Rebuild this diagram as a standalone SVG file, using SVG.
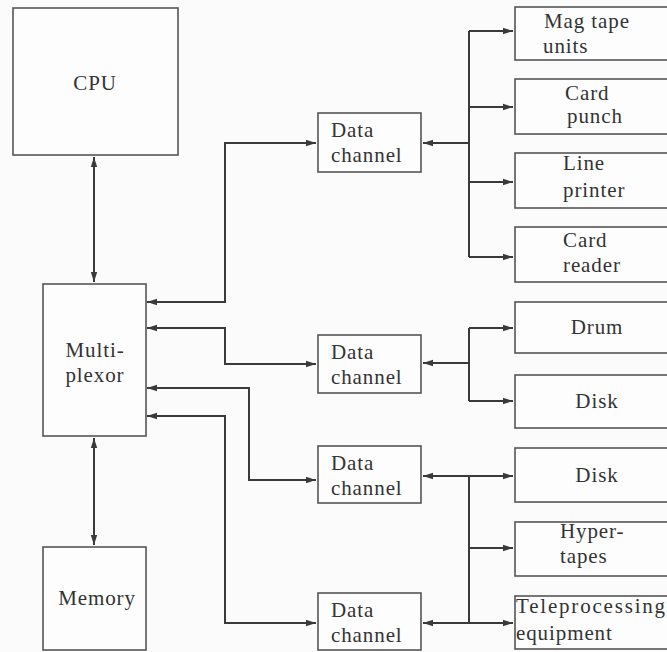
<svg xmlns="http://www.w3.org/2000/svg" width="667" height="652" viewBox="0 0 667 652">
<style>
.box{fill:#fdfdfd;stroke:#555;stroke-width:1.6}
.t{font-family:'Liberation Serif','DejaVu Serif','Times New Roman',Times,serif;font-size:21px;fill:#333;letter-spacing:0.9px}
.c{text-anchor:middle}
.ln{fill:none;stroke:#3a3a3a;stroke-width:2}
.a2{marker-start:url(#ah);marker-end:url(#ah)}
.ae{marker-end:url(#ah)}
.as{marker-start:url(#ah)}
</style>
<defs>
<marker id="ah" markerUnits="userSpaceOnUse" markerWidth="11" markerHeight="8" refX="10" refY="4" orient="auto-start-reverse">
<path d="M0,0.8 L10,4 L0,7.2 z" fill="#3a3a3a"/>
</marker>
</defs>
<rect width="667" height="652" fill="#fbfbfb"/>
<g id="connectors">
<path class="ln a2" d="M94,157 V282"/>
<path class="ln a2" d="M94,438 V545"/>
<path class="ln a2" d="M147,302 H225 V143 H316"/>
<path class="ln a2" d="M147,328 H225 V364 H316"/>
<path class="ln a2" d="M147,388 H249 V480 H316"/>
<path class="ln a2" d="M147,416 H225 V623 H316"/>
<path class="ln as" d="M423,143 H469"/>
<path class="ln" d="M469,31 V257"/>
<path class="ln ae" d="M469,31 H513"/>
<path class="ln ae" d="M469,107 H513"/>
<path class="ln ae" d="M469,182 H513"/>
<path class="ln ae" d="M469,257 H513"/>
<path class="ln as" d="M423,363 H469"/>
<path class="ln" d="M469,328 V401"/>
<path class="ln ae" d="M469,328 H513"/>
<path class="ln ae" d="M469,401 H513"/>
<path class="ln a2" d="M423,476 H513"/>
<path class="ln" d="M469,476 V623"/>
<path class="ln ae" d="M469,548 H513"/>
<path class="ln a2" d="M423,623 H513"/>
</g>
<g id="cpu"><rect class="box" x="13" y="8" width="165" height="147"/><text class="t c" x="95" y="90">CPU</text></g>
<g id="multiplexor"><rect class="box" x="43" y="284" width="103" height="152"/><text class="t c" x="95" y="357">Multi-</text><text class="t c" x="95" y="382">plexor</text></g>
<g id="memory"><rect class="box" x="43" y="547" width="103" height="103"/><text class="t c" x="97" y="605">Memory</text></g>
<g id="dc1"><rect class="box" x="318" y="113" width="103" height="59"/><text class="t" x="331" y="137">Data</text><text class="t" x="331" y="162">channel</text></g>
<g id="dc2"><rect class="box" x="318" y="335" width="103" height="58"/><text class="t" x="331" y="359">Data</text><text class="t" x="331" y="384">channel</text></g>
<g id="dc3"><rect class="box" x="318" y="446" width="103" height="57"/><text class="t" x="331" y="470">Data</text><text class="t" x="331" y="495">channel</text></g>
<g id="dc4"><rect class="box" x="318" y="593" width="103" height="57"/><text class="t" x="331" y="617">Data</text><text class="t" x="331" y="642">channel</text></g>
<g id="magtape"><rect class="box" x="515" y="7" width="160" height="53"/><text class="t" x="544" y="28">Mag tape</text><text class="t" x="543" y="53">units</text></g>
<g id="cardpunch"><rect class="box" x="515" y="79" width="160" height="55"/><text class="t" x="565" y="100">Card</text><text class="t" x="567" y="123">punch</text></g>
<g id="lineprinter"><rect class="box" x="515" y="153" width="160" height="55"/><text class="t" x="563" y="170">Line</text><text class="t" x="563" y="197">printer</text></g>
<g id="cardreader"><rect class="box" x="515" y="227" width="160" height="55"/><text class="t" x="563" y="247">Card</text><text class="t" x="563" y="272">reader</text></g>
<g id="drum"><rect class="box" x="515" y="302" width="160" height="51"/><text class="t c" x="597" y="334">Drum</text></g>
<g id="disk1"><rect class="box" x="515" y="375" width="160" height="53"/><text class="t c" x="597" y="408">Disk</text></g>
<g id="disk2"><rect class="box" x="515" y="448" width="160" height="54"/><text class="t c" x="597" y="482">Disk</text></g>
<g id="hypertapes"><rect class="box" x="515" y="522" width="160" height="54"/><text class="t" x="560" y="538">Hyper-</text><text class="t" x="560" y="563">tapes</text></g>
<g id="teleprocessing"><rect class="box" x="515" y="596" width="160" height="53"/><text class="t" x="516" y="613" textLength="150" lengthAdjust="spacing">Teleprocessing</text><text class="t" x="516" y="640">equipment</text></g>
</svg>
